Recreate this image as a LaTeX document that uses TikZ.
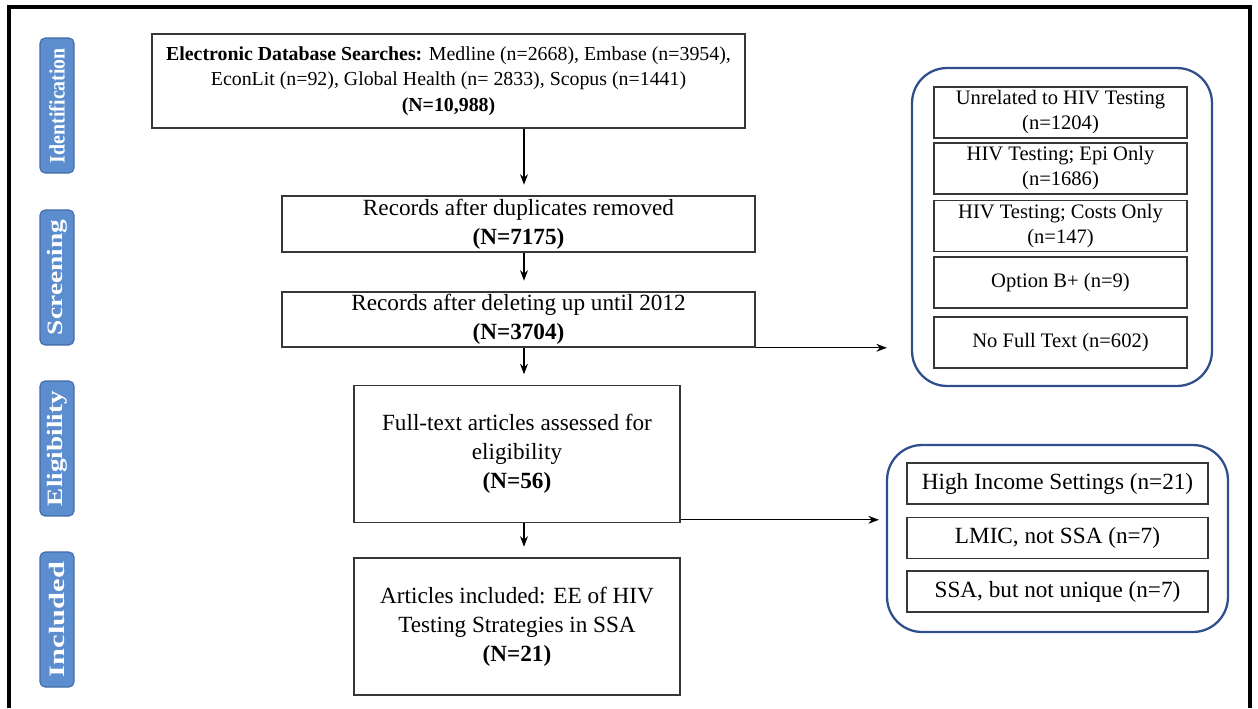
\documentclass[tikz,border=0pt]{standalone}
\usepackage{fontspec}
\setmainfont{Liberation Serif}
\usetikzlibrary{arrows.meta}
\definecolor{stageblue}{RGB}{91,141,207}
\definecolor{stageedge}{RGB}{66,106,168}
\definecolor{groupblue}{RGB}{46,78,140}
\definecolor{boxgray}{RGB}{55,55,55}
% stage names are stretched to fill their boxes
\newcommand{\stagename}[1]{\resizebox{2.3cm}{\height}{#1}}

\begin{document}
\begin{tikzpicture}[x=0.02cm,y=-0.02cm,
    stage/.style={rotate=90,rounded corners=0.1cm,fill=stageblue,draw=stageedge,line width=0.6pt,
        text=white,font=\fontsize{12.5}{14}\selectfont\bfseries,minimum width=2.7cm,minimum height=0.68cm,inner sep=0pt},
    flowbox/.style={draw=boxgray,line width=0.9pt,align=center,inner sep=0pt,
        font=\fontsize{13.2}{16.4}\selectfont},
    exclbox/.style={draw=boxgray,line width=0.9pt,align=center,inner sep=0pt,fill=white},
    groupbox/.style={draw=groupblue,line width=1.3pt,rounded corners=0.7cm},
    flow/.style={-{Stealth[length=6pt,width=4.5pt]},line width=0.7pt,shorten >=0.21cm}]
    \useasboundingbox (0,0) rectangle (1258,708);
    \draw[line width=2.6pt] (9,708) -- (9,7) -- (1250,7) -- (1250,708);

    % stages on the left
    \begin{scope}[every node/.style={stage}]
        \node (ident) at (57,105.5) {\stagename{Identification}};
        \node (screen) at (57,277.5) {\stagename{Screening}};
        \node (elig) at (57,448.5) {\stagename{Eligibility}};
        \node (incl) at (57,619.5) {\stagename{Included}};
    \end{scope}

    % main flow
    \node[flowbox,minimum width=11.86cm,minimum height=1.88cm,font=\fontsize{11.3}{14.4}\selectfont] (search) at (448.5,81)
        {\textbf{Electronic Database Searches:} Medline (n=2668), Embase (n=3954),\\
         EconLit (n=92), Global Health (n= 2833), Scopus (n=1441)\\
         \textbf{(N=10,988)}};
    \node[flowbox,minimum width=9.46cm,minimum height=1.12cm] (dupl) at (518.5,224)
        {Records after duplicates removed\\ \textbf{(N=7175)}};
    \node[flowbox,minimum width=9.46cm,minimum height=1.10cm] (dated) at (518.5,319.5)
        {Records after deleting up until 2012\\ \textbf{(N=3704)}};
    \node[flowbox,minimum width=6.52cm,minimum height=2.74cm] (fulltext) at (517,454)
        {Full-text articles assessed for\\ eligibility\\ \textbf{(N=56)}};
    \node[flowbox,minimum width=6.52cm,minimum height=2.74cm] (final) at (517,626.5)
        {Articles included: EE of HIV\\ Testing Strategies in SSA\\ \textbf{(N=21)}};

    % excluded records
    \node[groupbox,minimum width=6.0cm,minimum height=6.36cm] (exclA) at (1062,227) {};
    \begin{scope}[every node/.style={exclbox,minimum width=5.06cm,minimum height=1.02cm,
            font=\fontsize{11.7}{14.2}\selectfont}]
        \node (unrel) at (1060.5,112.5) {Unrelated to HIV Testing\\ (n=1204)};
        \node (epi) at (1060.5,168.5) {HIV Testing; Epi Only\\ (n=1686)};
        \node (costs) at (1060.5,226) {HIV Testing; Costs Only\\ (n=147)};
        \node (optb) at (1060.5,282.5) {Option B+ (n=9)};
        \node (nofull) at (1060.5,342.5) {No Full Text (n=602)};
    \end{scope}

    \node[groupbox,minimum width=6.82cm,minimum height=3.74cm] (exclB) at (1057.5,538.5) {};
    \begin{scope}[every node/.style={exclbox,minimum width=6.02cm,minimum height=0.82cm,
            font=\fontsize{13.2}{16}\selectfont}]
        \node (highinc) at (1057.5,483.5) {High Income Settings (n=21)};
        \node (lmic) at (1057.5,538) {LMIC, not SSA (n=7)};
        \node (ssa) at (1057.5,591.5) {SSA, but not unique (n=7)};
    \end{scope}

    % arrows
    \coordinate (ax) at (524,0);
    \draw[flow] (search.south -| ax) -- (dupl.north -| ax);
    \draw[flow] (dupl.south -| ax) -- (dated.north -| ax);
    \draw[flow] (dated.south -| ax) -- (fulltext.north -| ax);
    \draw[flow] (fulltext.south -| ax) -- (final.north -| ax);
    \draw[flow,shorten >=0.48cm] (dated.south east) -- (dated.south east -| exclA.west);
    \draw[flow,shorten >=0.14cm] ([yshift=0.07cm]fulltext.south east) -- ([yshift=0.07cm]fulltext.south east -| exclB.west);
\end{tikzpicture}
\end{document}
